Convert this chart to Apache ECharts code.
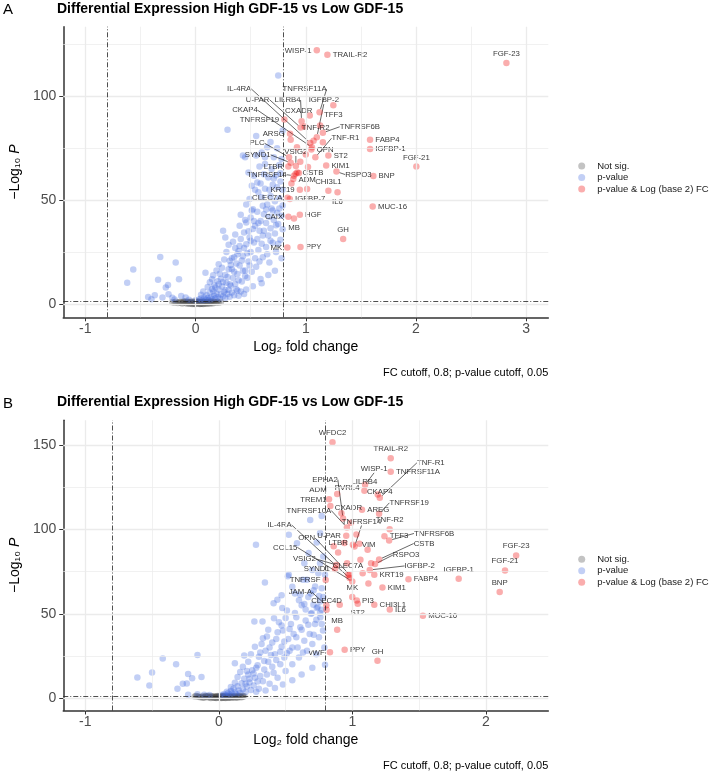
<!DOCTYPE html>
<html><head><meta charset="utf-8">
<script src="https://cdn.jsdelivr.net/npm/echarts@6/dist/echarts.min.js"></script>
<style>html,body{margin:0;padding:0;background:#fff}#c{width:709px;height:776px}</style>
</head><body><div id="c"></div>
<script>
// ---------------- data ----------------
const chartTitle = 'Differential Expression High GDF-15 vs Low GDF-15';
const legendNames = ['Not sig.', 'p-value', 'p-value & Log (base 2) FC'];
const captionText = 'FC cutoff, 0.8; p-value cutoff, 0.05';
const fcCutoff = 0.8;
const pCutoffLog = 1.30103;
const xTicksA = [-1, 0, 1, 2, 3];
const yTicksA = [0, 50, 100];
const xTicksB = [-1, 0, 1, 2];
const yTicksB = [0, 50, 100, 150];

const greyA = [[-0.21,0.9],[-0.18,1.1],[-0.16,0.5],[-0.14,1.0],[-0.12,0.3],[-0.11,0.8],[-0.09,1.2],[-0.08,0.3],[-0.07,0.7],[-0.06,1.0],[-0.05,0.2],[-0.04,0.5],[-0.03,0.9],[-0.02,0.1],[-0.01,0.4],[0.0,0.8],[0.0,0.1],[0.01,0.5],[0.02,1.1],[0.02,0.2],[0.03,0.7],[0.04,0.0],[0.04,0.4],[0.05,1.0],[0.06,0.2],[0.06,0.6],[0.07,0.3],[0.08,0.9],[0.08,1.2],[0.09,0.5],[0.10,0.8],[0.11,0.2],[0.12,1.1],[0.13,0.6],[0.14,0.9],[0.15,1.2],[0.16,0.4],[0.18,0.8],[0.20,1.1],[0.21,0.6],[-0.01,1.2],[0.01,0.9],[-0.03,0.0],[0.03,1.2],[0.05,0.1],[-0.15,0.9],[-0.10,1.1],[0.10,1.0],
[-0.13,0.6],[-0.11,1.2],[-0.09,0.5],[-0.07,1.1],[-0.06,0.1],[-0.05,0.8],[-0.04,1.2],[-0.02,0.6],[-0.01,0.0],[0.0,0.5],[0.01,1.2],[0.02,0.8],[0.03,0.1],[0.04,1.0],[0.05,0.6],[0.06,1.2],[0.07,0.9],[0.07,0.0],[0.08,0.5],[0.09,0.2],[0.10,0.3],[0.11,1.2],[0.12,0.6],[0.13,0.1],[0.14,1.2],[0.15,0.5],[0.17,1.0],[0.19,0.7],[0.23,1.0],[-0.19,0.6]];

const blueA = [[-0.62,10.3],[-0.565,16.6],[-0.43,3.4],[-0.40,2.3],[-0.37,4.2],[-0.34,11.7],[-0.32,22.7],[-0.30,3.1],[-0.27,7.9],[-0.25,9.2],[-0.245,4.7],[-0.21,3.0],[-0.19,2.2],[-0.18,20.0],[-0.15,11.9],[-0.13,3.9],[-0.09,3.1],[-0.06,2.0],
[0.0,1.8],[0.03,2.2],[0.05,2.6],[0.06,1.7],[0.08,3.1],[0.09,2.0],[0.10,4.2],[0.11,2.8],[0.12,1.9],[0.13,5.4],[0.14,3.3],[0.15,2.4],[0.16,6.2],[0.17,4.0],[0.18,2.7],[0.19,5.1],[0.20,3.4],[0.21,7.0],[0.22,2.5],[0.23,4.6],[0.24,8.4],[0.25,3.7],[0.26,5.8],[0.27,2.9],[0.28,10.2],[0.29,4.8],[0.30,6.9],[0.31,3.5],[0.32,8.8],[0.33,5.6],[0.34,12.5],[0.35,4.2],[0.36,9.6],[0.37,7.1],
[0.09,15.1],[0.15,11.9],[0.18,8.0],[0.21,19.2],[0.23,12.2],[0.25,35.3],[0.27,32.0],[0.27,14.0],[0.29,84.0],[0.30,16.8],[0.31,20.8],[0.33,16.8],[0.35,22.5],[0.36,27.0],[0.38,14.5],[0.39,25.6],[0.40,37.7],[0.40,18.5],[0.41,31.3],[0.42,10.8],[0.43,71.5],[0.43,23.0],[0.44,34.5],[0.45,16.2],[0.45,70.7],[0.46,28.8],[0.46,39.3],[0.47,12.7],[0.48,20.5],[0.48,63.4],[0.49,32.0],[0.49,50.6],[0.50,41.7],[0.50,25.0],[0.51,57.0],[0.51,15.5],[0.52,36.1],[0.52,45.7],[0.53,29.6],[0.53,61.8],[0.54,22.0],[0.54,37.7],[0.55,71.5],[0.55,18.0],[0.55,80.9],[0.56,31.3],[0.56,58.6],[0.56,44.4],[0.57,53.8],[0.57,26.0],[0.58,35.3],[0.58,66.2],[0.59,40.0],[0.59,12.0],[0.60,51.4],[0.60,29.0],[0.61,47.3],[0.61,22.5],[0.62,43.3],[0.62,35.3],[0.63,67.5],[0.63,70.7],[0.63,55.5],[0.64,39.0],[0.64,27.5],[0.65,48.0],[0.65,75.5],[0.66,33.0],[0.66,61.0],[0.67,42.0],[0.67,20.0],[0.68,52.0],[0.68,36.5],[0.69,65.0],[0.69,46.0],[0.70,29.5],[0.70,57.5],[0.71,70.7],[0.71,40.5],[0.72,49.5],[0.72,34.0],[0.73,62.0],[0.73,25.0],[0.74,56.2],[0.74,44.0],[0.75,110.1],[0.75,38.5],[0.76,67.0],[0.76,51.0],[0.77,31.0],[0.77,59.0],[0.78,42.5],[0.78,69.9],[0.79,83.6],[0.79,47.5],[0.79,36.0],[0.78,22.0],[0.72,16.0],[0.66,14.0],[0.60,10.0],[0.52,8.5],[0.46,7.0],[0.41,6.0],[0.39,4.0],[0.44,4.8],
[0.05,4.5],[0.07,6.0],[0.11,8.2],[0.13,10.5],[0.16,13.8],[0.17,9.0],[0.19,16.2],[0.20,11.0],[0.22,14.6],[0.24,17.5],[0.25,10.6],[0.26,21.5],[0.28,25.0],[0.29,13.0],[0.30,28.5],[0.31,9.5],[0.32,18.8],[0.33,22.0],[0.34,30.0],[0.35,15.5],[0.36,33.5],[0.37,19.5],[0.38,24.0],[0.39,11.5],[0.40,28.0],[0.41,43.0],[0.42,21.0],[0.43,16.0],[0.44,27.0],[0.45,40.5],[0.46,48.0],[0.47,24.5],[0.48,35.0],[0.49,18.5],[0.50,30.5],[0.51,45.0],[0.53,40.0],[0.54,55.0],[0.57,39.0],[0.58,20.5],[0.59,58.0],[0.61,33.0],[0.62,62.5],[0.64,45.5],[0.65,24.0],[0.67,55.0],[0.68,30.5],[0.70,45.0],[0.71,60.5],[0.73,38.0],[0.75,29.0],[0.76,46.0],[0.77,63.0],[0.79,55.0],[0.74,75.0],[0.68,78.0],[0.60,73.0],[0.45,13.5],[0.38,6.5],[0.27,6.8],[0.21,9.5],[0.15,7.2]];

const redNamesA = ['WISP-1','TRAIL-R2','FGF-23','TFF3','IGFBP-2','TNFRSF11A','IL-4RA','U-PAR','LILRB4','CKAP4','CXADR','TNFRSF19','TNF-R2','TNFRSF6B','TNF-R1','ARSG','OPN','PLC','VSIG2','SYND1','LTBR','TNFRSF14','CSTB','KRT19','ADM','KIM1','ST2','RSPO3','CHI3L1','IL6','IGFBP-7','CLEC7A','CAIX','HGF','MB','GH','MK','PPY','FABP4','IGFBP-1','FGF-21','BNP','MUC-16'];
const redA = [[1.10,122.2],[1.196,120.1],[2.82,116.1],[1.25,95.7],[1.10,80.4],[1.125,92.4],[1.04,77.6],[0.953,85.0],[0.962,88.1],[1.056,75.5],[1.036,90.8],[0.806,88.9],[1.071,78.7],[1.155,82.5],[1.087,70.7],[0.857,82.0],[1.051,74.4],[0.848,70.7],[0.91,66.5],[0.863,68.0],[0.842,66.2],[0.893,61.8],[0.923,63.4],[0.946,55.1],[1.012,55.4],[1.185,66.7],[1.205,71.5],[1.278,63.8],[1.205,54.6],[1.288,53.8],[0.855,50.6],[0.835,51.2],[0.842,42.0],[0.946,43.0],[0.893,41.2],[1.339,31.3],[0.833,27.2],[0.952,27.5],[1.583,79.1],[1.583,74.7],[2.003,66.2],[1.613,61.7],[1.607,47.0]];
const redOtherA = [[0.863,79.1],[1.155,77.9],[0.908,62.7],[0.887,60.2],[0.938,63.1],[0.99,85.5],[1.0,72.0],[1.13,86.0],[0.95,68.5],[1.02,66.0],[0.92,75.5],[0.87,58.0]];

const greyB = [[-0.18,0.9],[-0.16,1.1],[-0.14,0.5],[-0.12,1.0],[-0.11,0.3],[-0.10,0.8],[-0.08,1.2],[-0.07,0.3],[-0.06,0.7],[-0.05,1.0],[-0.04,0.2],[-0.03,0.5],[-0.02,0.9],[-0.01,0.1],[0.0,0.4],[0.0,0.8],[0.01,0.1],[0.02,0.5],[0.02,1.1],[0.03,0.2],[0.04,0.7],[0.05,0.0],[0.05,0.4],[0.06,1.0],[0.07,0.2],[0.07,0.6],[0.08,0.3],[0.09,0.9],[0.10,1.2],[0.10,0.5],[0.11,0.8],[0.12,0.2],[0.13,1.1],[0.14,0.6],[0.15,0.9],[0.16,1.2],[0.17,0.4],[0.18,0.8],[0.19,1.1],[-0.01,1.2],[0.01,0.9],[-0.02,0.0],[0.03,1.2],[0.04,0.1],[-0.13,0.8],[-0.09,1.1],[0.08,1.0],
[-0.15,0.7],[-0.12,0.2],[-0.10,1.2],[-0.09,0.4],[-0.07,0.9],[-0.06,0.0],[-0.05,0.6],[-0.04,1.1],[-0.03,0.2],[-0.02,0.7],[-0.01,0.6],[0.0,1.1],[0.01,0.4],[0.02,0.0],[0.03,0.8],[0.04,1.2],[0.05,0.7],[0.06,0.3],[0.07,1.1],[0.08,0.6],[0.09,0.1],[0.10,0.8],[0.11,0.4],[0.12,1.2],[0.13,0.7],[0.14,0.2],[0.15,1.1],[0.16,0.6],[0.18,1.2],[-0.17,1.2]];

const blueB = [[-0.61,12.2],[-0.52,7.5],[-0.50,15.2],[-0.42,23.5],[-0.32,20.0],[-0.31,5.5],[-0.27,8.4],[-0.24,8.6],[-0.23,14.2],[-0.23,2.0],[-0.20,11.8],[-0.16,25.5],[-0.13,12.5],[-0.16,2.2],[-0.11,2.0],[-0.07,1.8],
[0.02,1.8],[0.04,2.4],[0.05,1.6],[0.07,3.0],[0.08,2.1],[0.09,4.2],[0.10,2.7],[0.11,5.6],[0.12,3.4],[0.13,2.2],[0.14,7.0],[0.15,4.5],[0.16,3.0],[0.17,8.8],[0.18,5.2],[0.19,11.5],[0.20,3.6],[0.21,6.8],[0.22,14.0],[0.23,9.2],[0.24,4.8],[0.25,16.5],[0.26,7.5],[0.27,12.0],[0.28,18.0],[0.28,3.8],[0.29,9.8],[0.30,5.5],
[0.12,20.7],[0.19,25.3],[0.21,16.0],[0.278,91.0],[0.266,45.4],[0.327,45.4],[0.33,35.4],[0.345,68.6],[0.37,40.5],[0.31,27.0],[0.34,22.0],[0.36,14.0],[0.38,30.0],[0.40,18.5],[0.413,47.3],[0.41,56.3],[0.42,26.0],[0.43,35.0],[0.44,12.0],[0.438,58.3],[0.45,45.0],[0.46,20.0],[0.47,30.5],[0.475,53.4],[0.48,40.0],[0.49,24.0],[0.50,16.0],[0.51,52.0],[0.517,72.2],[0.524,96.9],[0.524,73.1],[0.52,35.0],[0.53,28.0],[0.54,44.0],[0.55,20.0],[0.56,38.0],[0.57,62.0],[0.585,91.9],[0.58,48.0],[0.59,30.0],[0.60,24.0],[0.61,61.3],[0.61,42.0],[0.62,55.0],[0.63,70.2],[0.64,55.8],[0.64,34.0],[0.65,46.0],[0.659,70.2],[0.66,28.0],[0.672,86.0],[0.67,60.0],[0.68,38.0],[0.684,105.7],[0.69,50.0],[0.696,50.4],[0.70,32.0],[0.708,55.3],[0.71,64.0],[0.721,66.2],[0.72,44.0],[0.733,92.3],[0.733,53.4],[0.73,26.0],[0.745,74.1],[0.74,54.0],[0.75,36.0],[0.758,97.9],[0.758,80.0],[0.758,57.3],[0.758,50.4],[0.76,48.0],[0.77,108.0],[0.77,65.2],[0.77,52.4],[0.78,40.0],[0.782,84.0],[0.782,59.9],[0.795,73.1],[0.795,19.8],[0.70,18.0],[0.62,14.0],[0.55,10.5],[0.48,8.0],[0.42,6.0],[0.35,4.5],[0.33,10.0],[0.38,8.5],
[0.06,3.8],[0.09,6.5],[0.12,9.0],[0.14,12.5],[0.16,15.5],[0.18,18.5],[0.20,8.5],[0.22,21.5],[0.23,11.5],[0.24,26.0],[0.26,14.5],[0.27,30.5],[0.29,19.5],[0.30,24.5],[0.31,13.0],[0.32,32.0],[0.34,17.0],[0.35,28.0],[0.36,36.5],[0.37,21.5],[0.39,25.5],[0.40,33.0],[0.41,15.0],[0.43,22.5],[0.44,39.0],[0.46,27.5],[0.47,43.0],[0.49,33.5],[0.50,47.5],[0.51,26.5],[0.53,41.0],[0.55,30.0],[0.57,50.5],[0.58,36.0],[0.60,58.0],[0.62,40.5],[0.63,27.0],[0.65,52.5],[0.67,43.5],[0.69,62.0],[0.71,37.5],[0.73,46.5],[0.75,60.5],[0.77,44.0],[0.79,30.0],[0.70,76.0],[0.64,80.0],[0.55,66.0],[0.47,61.0]];

const redNamesB = ['WFDC2','TRAIL-R2','TNFRSF11A','WISP-1','LILRB4','TNF-R1','CKAP4','PVRL4','ADM','EPHA2','TREM1','TNFRSF10A','CXADR','AREG','TNFRSF19','TNFRSF14','TNF-R2','TFF3','TNFRSF6B','VIM','CSTB','RSPO3','IGFBP-2','U-PAR','LTBR','OPN','IL-4RA','CCL15','VSIG2','SYND1','CLEC7A','TNFRSF','KRT19','FABP4','KIM1','MK','PI3','ST2','CHI3L1','IL6','JAM-A','CLEC4D','MUC-16','IGFBP-1','FGF-23','FGF-21','BNP','MB','vWF','PPY','GH'];
const redB = [[0.851,151.8],[1.287,142.3],[1.287,134.2],[1.095,126.5],[1.09,123.0],[1.205,118.8],[1.19,120.8],[0.886,121.0],[0.825,118.0],[0.93,106.5],[0.835,114.0],[0.959,101.2],[0.918,109.7],[1.072,111.7],[1.20,109.3],[1.016,89.9],[1.279,100.2],[1.24,96.0],[1.275,93.5],[1.114,88.0],[1.20,82.2],[1.17,79.5],[1.13,76.0],[0.954,96.3],[0.893,86.4],[0.98,73.0],[0.979,71.2],[0.999,69.2],[0.88,79.0],[0.87,76.5],[0.967,73.1],[0.80,70.0],[1.164,73.1],[1.42,70.5],[1.225,65.6],[0.999,59.9],[1.033,57.9],[1.04,56.0],[1.164,55.3],[1.28,52.5],[0.805,55.0],[0.807,52.4],[1.528,48.8],[1.796,70.8],[2.226,84.6],[2.143,75.7],[2.103,62.9],[0.886,40.5],[0.832,27.1],[0.942,28.6],[1.188,22.1]];
const redOtherB = [[1.053,91.5],[1.004,90.9],[1.077,74.1],[0.905,55.3],[0.99,104.0],[1.03,97.0],[0.94,92.0],[1.14,80.0],[0.86,90.0],[1.12,68.0],[0.96,80.0],[1.06,82.0]];

// ---------------- label layout (pixel offsets, not data) ----------------
// [position, ox, oy]; 'c' = moved label with connector, 'n' = moved label without connector
const layA = {'WISP-1':['left',0,-2],'TRAIL-R2':['right',0,0],'FGF-23':['top',0,0],'TFF3':['bottom',3,0],
'IGFBP-2':['c',7,-37],'TNFRSF11A':['c',-15,-23],'IL-4RA':['c',-71,-54],'U-PAR':['c',-43,-28],'LILRB4':['c',-14,-21],'CKAP4':['c',-67,-37],
'CXADR':['n',-11,-5],'TNFRSF19':['left',0,0],'TNF-R2':['n',2,-13],'TNFRSF6B':['c',37,-6],'TNF-R1':['c',30,-19],'ARSG':['left',0,0],'OPN':['right',0,0],
'PLC':['c',-32,-14],'VSIG2':['c',0,-14],'SYND1':['c',-33,-8],'LTBR':['left',0,0],'TNFRSF14':['c',-27,-1],'CSTB':['right',0,0],'KRT19':['left',0,-4],
'ADM':['top',0,0],'KIM1':['right',0,0],'ST2':['right',0,-3],'RSPO3':['c',22,3],'CHI3L1':['top',0,0],'IL6':['bottom',8,0],'IGFBP-7':['right',0,0],
'CLEC7A':['left',0,0],'CAIX':['left',0,0],'HGF':['right',0,0],'MB':['bottom',0,0],'GH':['top',0,0],'MK':['left',0,0],'PPY':['right',0,0],
'FABP4':['right',0,0],'IGFBP-1':['right',0,0],'FGF-21':['top',0,0],'BNP':['right',0,-4],'MUC-16':['right',0,-5]};
const layB = {'WFDC2':['top',0,0],'TRAIL-R2':['top',-10,0],'TNFRSF11A':['right',0,0],'WISP-1':['c',9,-16],'LILRB4':['top',-1,0],'TNF-R1':['c',51,-35],
'CKAP4':['n',2,-3],'PVRL4':['n',10,-6],'ADM':['n',-11,-9],'EPHA2':['c',-18,-39],'TREM1':['n',-17,-6],'TNFRSF10A':['c',-38,-17],'CXADR':['n',7,-5],
'AREG':['right',0,0],'TNFRSF19':['c',30,-11],'TNFRSF14':['c',7,-25],'TNF-R2':['top',8,0],'TFF3':['right',0,0],'TNFRSF6B':['c',45,-7],'VIM':['n',1,-5],
'CSTB':['c',45,-16],'RSPO3':['c',31,-9],'IGFBP-2':['c',50,-4],'U-PAR':['left',0,0],'LTBR':['top',-3,0],'OPN':['c',-43,-37],'IL-4RA':['c',-70,-53],
'CCL15':['c',-67,-34],'VSIG2':['c',-32,-6],'SYND1':['left',0,0],'CLEC7A':['top',0,0],'TNFRSF':['left',0,0],'KRT19':['right',0,0],'FABP4':['right',0,0],
'KIM1':['right',0,0],'MK':['top',-5,0],'PI3':['right',0,0],'ST2':['bottom',0,0],'CHI3L1':['right',0,0],'IL6':['right',0,0],'JAM-A':['c',-26,-13],
'CLEC4D':['top',0,0],'MUC-16':['right',0,-5],'IGFBP-1':['top',0,0],'FGF-23':['top',0,0],'FGF-21':['top',0,0],'BNP':['top',0,0],'MB':['top',0,0],
'vWF':['left',0,0],'PPY':['right',0,0],'GH':['top',0,0]};

// ---------------- chart ----------------
const FONT = "'Liberation Sans', Arial, Helvetica, sans-serif";
const COL_GREY = 'rgba(77,77,77,0.42)';
const COL_BLUE = 'rgba(65,105,225,0.4)';
const COL_RED = 'rgba(238,0,0,0.4)';
const GRID_COL = '#ebebeb';

function redData(names, pts, others, lay) {
  const out = names.map((n, i) => {
    const L = lay[n] || ['right', 0, 0];
    const it = {name: n, value: pts[i]};
    if (L[0] === 'c' || L[0] === 'n') {
      it.label = {position: 'inside'};
      it.labelLine = {show: L[0] === 'c'};
    } else {
      it.label = {position: L[0], offset: [L[1], L[2]]};
    }
    return it;
  });
  others.forEach(p => out.push({name: '', value: p, label: {show: false}}));
  return out;
}
function layoutFn(names, lay) {
  return function (p) {
    const n = names[p.dataIndex];
    const L = n ? lay[n] : null;
    if (L && (L[0] === 'c' || L[0] === 'n')) return {dx: L[1], dy: L[2]};
    return {};
  };
}
function gridLines(ix, xMajor, xMinor, yMajor, yMinor) {
  const d = [];
  xMinor.forEach(v => d.push({xAxis: v, lineStyle: {color: GRID_COL, width: 0.7, type: 'solid'}}));
  yMinor.forEach(v => d.push({yAxis: v, lineStyle: {color: GRID_COL, width: 0.7, type: 'solid'}}));
  xMajor.forEach(v => d.push({xAxis: v, lineStyle: {color: GRID_COL, width: 1.3, type: 'solid'}}));
  yMajor.forEach(v => d.push({yAxis: v, lineStyle: {color: GRID_COL, width: 1.3, type: 'solid'}}));
  return {type: 'scatter', xAxisIndex: ix, yAxisIndex: ix, z: 1, silent: true, symbolSize: 0, data: [],
    markLine: {silent: true, symbol: ['none', 'none'], label: {show: false}, animation: false, data: d}};
}
function cutLines(ix) {
  const ls = {color: '#222', width: 0.8, type: [5, 2, 1, 2]};
  return {type: 'scatter', xAxisIndex: ix, yAxisIndex: ix, z: 3, silent: true, symbolSize: 0, data: [],
    markLine: {silent: true, symbol: ['none', 'none'], label: {show: false}, animation: false,
      data: [{xAxis: -fcCutoff, lineStyle: ls}, {xAxis: fcCutoff, lineStyle: ls}, {yAxis: pCutoffLog, lineStyle: ls}]}};
}
function pointSeries(ix, name, data, color, z) {
  return {type: 'scatter', name: name, xAxisIndex: ix, yAxisIndex: ix, z: z, symbolSize: 6.5,
    itemStyle: {color: color}, emphasis: {disabled: true}, data: data};
}
function redSeries(ix, names, pts, others, lay) {
  return {type: 'scatter', name: legendNames[2], xAxisIndex: ix, yAxisIndex: ix, z: 4, symbolSize: 6.5,
    itemStyle: {color: COL_RED}, emphasis: {disabled: true},
    label: {show: true, formatter: '{b}', fontSize: 7.8, color: '#000', fontFamily: FONT, distance: 2},
    labelLine: {show: false, lineStyle: {color: '#000', width: 0.6}},
    labelLayout: layoutFn(names, lay),
    data: redData(names, pts, others, lay)};
}
function xAx(ix, min, max, ticks) {
  return {type: 'value', gridIndex: ix, min: min, max: max,
    axisLine: {show: true, onZero: false, lineStyle: {color: '#333', width: 1.5}},
    axisTick: {show: true, customValues: ticks, length: 4, lineStyle: {color: '#333', width: 1}},
    axisLabel: {customValues: ticks, fontSize: 14, color: '#4d4d4d', margin: 5, fontFamily: FONT},
    splitLine: {show: false},
    name: 'Log₂ fold change', nameLocation: 'middle', nameGap: 23,
    nameTextStyle: {fontSize: 14, color: '#000', fontFamily: FONT}};
}
function yAx(ix, min, max, ticks) {
  return {type: 'value', gridIndex: ix, min: min, max: max,
    axisLine: {show: true, onZero: false, lineStyle: {color: '#333', width: 1.5}},
    axisTick: {show: true, customValues: ticks, length: 4, lineStyle: {color: '#333', width: 1}},
    axisLabel: {customValues: ticks, fontSize: 14, color: '#4d4d4d', margin: 7, fontFamily: FONT},
    splitLine: {show: false},
    name: '{a|−Log₁₀ }{i|P}', nameLocation: 'middle', nameGap: 41, nameRotate: 90,
    nameTextStyle: {fontSize: 14, color: '#000', fontFamily: FONT,
      rich: {a: {fontSize: 14, color: '#000', fontFamily: FONT}, i: {fontSize: 14, fontStyle: 'italic', color: '#000', fontFamily: FONT}}}};
}
function legendAt(top) {
  return {data: legendNames, orient: 'vertical', left: 578.2, top: top, padding: 0, icon: 'circle', itemWidth: 7, itemHeight: 7, itemGap: 0,
    selectedMode: false, textStyle: {fontSize: 9.5, color: '#1a1a1a', fontFamily: FONT, lineHeight: 11.5, padding: [0, 0, 0, 7]}};
}
function ttl(text, left, top, size, weight) {
  return {text: text, left: left, top: top, padding: 0, textStyle: {fontSize: size, fontWeight: weight, color: '#000', fontFamily: FONT}};
}

const chart = echarts.init(document.getElementById('c'), null, {renderer: 'canvas'});
chart.setOption({
  animation: false,
  backgroundColor: '#fff',
  textStyle: {fontFamily: FONT},
  title: [
    ttl('A', 3, 2.5, 15, 'normal'),
    ttl(chartTitle, 57, 2, 14, 'bold'),
    {text: captionText, right: 160.7, top: 367.3, padding: 0, textStyle: {fontSize: 11, fontWeight: 'normal', color: '#000', fontFamily: FONT}},
    ttl('B', 3, 396, 15, 'normal'),
    ttl(chartTitle, 57, 395.6, 14, 'bold'),
    {text: captionText, right: 160.7, top: 760.7, padding: 0, textStyle: {fontSize: 11, fontWeight: 'normal', color: '#000', fontFamily: FONT}}
  ],
  legend: [legendAt(160.2), legendAt(553.5)],
  grid: [
    {left: 56, top: 26.7, width: 492.3, height: 290.6},
    {left: 56, top: 420.3, width: 492.3, height: 290.2}
  ],
  xAxis: [xAx(0, -1.2, 3.2, xTicksA), xAx(1, -1.165, 2.467, xTicksB)],
  yAxis: [yAx(0, -6.4, 133.6, yTicksA), yAx(1, -7.4, 164.8, yTicksB)],
  series: [
    gridLines(0, [-1, 0, 1, 2, 3], [-0.5, 0.5, 1.5, 2.5], [0, 50, 100], [25, 75, 125]),
    gridLines(1, [-1, 0, 1, 2], [-0.5, 0.5, 1.5], [0, 50, 100, 150], [25, 75, 125]),
    pointSeries(0, legendNames[0], greyA, COL_GREY, 2),
    pointSeries(0, legendNames[1], blueA, COL_BLUE, 2),
    cutLines(0),
    redSeries(0, redNamesA, redA, redOtherA, layA),
    pointSeries(1, legendNames[0], greyB, COL_GREY, 2),
    pointSeries(1, legendNames[1], blueB, COL_BLUE, 2),
    cutLines(1),
    redSeries(1, redNamesB, redB, redOtherB, layB)
  ]
});
</script>
</body></html>
